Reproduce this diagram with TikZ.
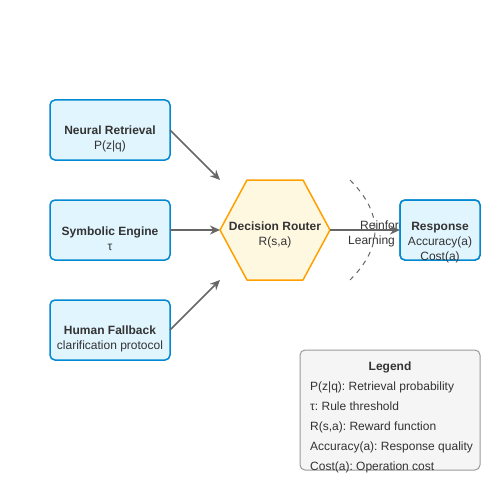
\documentclass[tikz,border=0pt]{standalone}
\usepackage{fontspec}
\setmainfont{Liberation Sans}
\usepackage{tikz}
\usetikzlibrary{positioning}
\usetikzlibrary{calc,arrows.meta}
\definecolor{boxblue}{HTML}{0288D1}
\definecolor{boxfill}{HTML}{E1F5FE}
\definecolor{hexline}{HTML}{FFA000}
\definecolor{hexfill}{HTML}{FFF8E1}
\definecolor{txtgray}{HTML}{333333}
\definecolor{arrgray}{HTML}{666666}
\definecolor{leglinecol}{HTML}{999999}
\definecolor{legfill}{HTML}{F5F5F5}
\frenchspacing
\tikzset{
  box/.style={draw=boxblue, fill=boxfill, line width=1.5pt, rounded corners=5pt, minimum width=120pt, minimum height=60pt, outer sep=0pt},
  txt/.style={text=txtgray, align=center, font=\fontsize{12}{15}\selectfont},
  flow/.style={draw=arrgray, line width=1.5pt, -{Stealth[length=10pt,width=9pt]}}
}

\begin{document}
\begin{tikzpicture}[x=1pt, y=-1pt, node distance=40pt]
      \useasboundingbox (0,0) rectangle (500,500);

      \node(nr) [box] at (110,130) {};
      \node(se) [box, below=of nr] {};
      \node(hf) [box, below=of se] {};
      \node(dr) [minimum width=110pt, minimum height=100pt, outer sep=0pt] at (275,230) {};
      \node(rs) [box, minimum width=80pt, right=70pt of dr] {};
      \node(lg) [draw=leglinecol, fill=legfill, line width=1pt, rounded corners=5pt, minimum width=180pt, minimum height=120pt] at (390,410) {};

      \node(nrt) [txt] at ([yshift=-9pt]nr.center) {\textbf{Neural Retrieval}\\P(z|q)};
      \node(set) [txt] at ([yshift=-9pt]se.center) {\textbf{Symbolic Engine}\\τ};
      \node(hft) [txt] at ([yshift=-9pt]hf.center) {\textbf{Human Fallback}\\clarification protocol};

      \fill[hexfill] (dr.west) -- ([xshift=27pt]dr.north west) -- ([xshift=-27pt]dr.north east) -- (dr.east) -- ([xshift=-27pt]dr.south east) -- ([xshift=27pt]dr.south west) -- cycle;
      \draw[hexline, line width=1.5pt, line join=round] (dr.west) -- ([xshift=27pt]dr.north west) -- ([xshift=-27pt]dr.north east) -- (dr.east) -- ([xshift=-27pt]dr.south east) -- ([xshift=27pt]dr.south west) -- cycle;
      \node(drt) [txt] at ([yshift=-5pt]dr.center) {\textbf{Decision Router}\\R(s,a)};

      \node(rl1) [txt, anchor=base west, inner sep=0pt] at (360,229) {Reinforcement};
      \node(rl2) [txt, anchor=base west, inner sep=0pt] at (348,244) {Learning};
      \coordinate(ra) at (350,180);
      \coordinate(rc) at (400,230);
      \coordinate(rb) at (350,280);
      \draw[arrgray, line width=1pt, dash pattern=on 5pt off 5pt] (ra) .. controls ($(ra)!2/3!(rc)$) and ($(rb)!2/3!(rc)$) .. (rb);

      \draw[flow] (nr.east) -- (dr.north west);
      \draw[flow] (se.east) -- (dr.west);
      \draw[flow] (hf.east) -- (dr.south west);
      \draw[flow] (dr.east) -- (rs.west);

      \node(rs2) [box, minimum width=80pt] at (rs) {};
      \node(rst) [txt] at ([yshift=-13pt]rs.center) {\textbf{Response}\\Accuracy(a)\\Cost(a)};

      \node(lgt) [txt, anchor=base] at (390,370) {\textbf{Legend}};
      \node(lg1) [txt, anchor=base west, inner sep=0pt] at (310,390) {P(z|q): Retrieval probability};
      \node(lg2) [txt, anchor=base west, inner sep=0pt] at (310,410) {τ: Rule threshold};
      \node(lg3) [txt, anchor=base west, inner sep=0pt] at (310,430) {R(s,a): Reward function};
      \node(lg4) [txt, anchor=base west, inner sep=0pt] at (310,450) {Accuracy(a): Response quality};
      \node(lg5) [txt, anchor=base west, inner sep=0pt] at (310,470) {Cost(a): Operation cost};
    \end{tikzpicture}
\end{document}
